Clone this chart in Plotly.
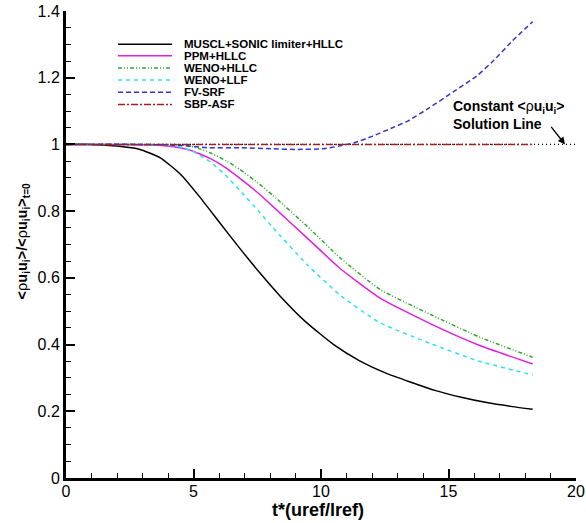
import plotly.graph_objects as go

# Nondimensional time samples and normalised kinetic energy <rho u_i u_i>/<rho u_i u_i>_{t=0}
t_muscl = [0, 1, 2, 2.9, 3.7, 4.5, 5.25, 6.0, 6.8, 7.6, 8.4, 9.4, 10.5, 11.5, 12.5, 13.5, 14.5, 15.5, 16.5, 17.5, 18.3]
v_muscl = [1.0, 1.0, 0.995, 0.985, 0.96, 0.91, 0.842, 0.768, 0.69, 0.615, 0.545, 0.468, 0.400, 0.352, 0.316, 0.288, 0.262, 0.242, 0.226, 0.214, 0.206]

t_ppm = [0, 2, 3.4, 4.2, 4.86, 5.65, 6.3, 6.82, 7.6, 8.1, 9.45, 10.75, 12.3, 14.3, 16.2, 18.3]
v_ppm = [1.0, 1.0, 0.998, 0.993, 0.983, 0.958, 0.928, 0.898, 0.85, 0.815, 0.72, 0.628, 0.54, 0.462, 0.398, 0.342]

t_weno_hllc = [0, 3, 4.6, 5.2, 5.65, 6.3, 6.82, 7.6, 8.1, 9.45, 10.75, 12.3, 14.3, 16.2, 18.3]
v_weno_hllc = [1.0, 1.0, 0.998, 0.988, 0.975, 0.95, 0.925, 0.88, 0.848, 0.755, 0.66, 0.566, 0.49, 0.423, 0.362]

t_weno_llf = [0, 3, 4.35, 5.0, 5.65, 6.2, 6.82, 7.6, 8.1, 9.45, 10.75, 12.3, 14.3, 16.2, 18.3]
v_weno_llf = [1.0, 1.0, 0.995, 0.978, 0.948, 0.912, 0.862, 0.796, 0.752, 0.64, 0.548, 0.466, 0.403, 0.35, 0.309]

t_fv_srf = [0, 3, 4.5, 5.6, 6.8, 8.1, 9.0, 10.1, 10.7, 11.3, 12.0, 12.8, 13.4, 14.15, 15.2, 16.1, 16.75, 17.5, 18.3]
v_fv_srf = [1.0, 1.0, 0.997, 0.99, 0.99, 0.987, 0.985, 0.987, 0.995, 1.005, 1.024, 1.05, 1.07, 1.105, 1.158, 1.205, 1.25, 1.31, 1.368]

t_sbp_asf = [0, 18.3]
v_sbp_asf = [1.0, 1.0]

t_const = [0, 20]
v_const = [1.0, 1.0]

series = [
    ("MUSCL+SONIC limiter+HLLC", t_muscl, v_muscl, "#000000", "solid"),
    ("PPM+HLLC", t_ppm, v_ppm, "#e020e0", "solid"),
    ("WENO+HLLC", t_weno_hllc, v_weno_hllc, "#30a830", "4px,2px,1px,2px,1px,2px"),
    ("WENO+LLF", t_weno_llf, v_weno_llf, "#30e0ee", "4px,4px"),
    ("FV-SRF", t_fv_srf, v_fv_srf, "#3535c8", "5px,3px"),
    ("SBP-ASF", t_sbp_asf, v_sbp_asf, "#a02020", "7px,2px,2px,2px"),
]

FONT = "Liberation Sans, Arial, Helvetica, sans-serif"

fig = go.Figure()

# constant-solution reference line (dotted)
fig.add_trace(go.Scatter(x=t_const, y=v_const, mode="lines",
                         line=dict(color="black", width=1.2, dash="1px,3px"),
                         showlegend=False, hoverinfo="skip"))

for name, t, v, color, dash in series:
    fig.add_trace(go.Scatter(x=t, y=v, mode="lines", name=name,
                             line=dict(color=color, width=1.5, dash=dash, shape="spline", smoothing=0.5),
                             showlegend=False))

# hand-laid legend in the upper-left corner
leg_x0, leg_x1, leg_tx = 0.102, 0.208, 0.227
leg_rows = [0.929, 0.904, 0.878, 0.852, 0.826, 0.800]
for (name, _, _, color, dash), yy in zip(series, leg_rows):
    fig.add_shape(type="line", xref="paper", yref="paper",
                  x0=leg_x0, x1=leg_x1, y0=yy, y1=yy,
                  line=dict(color=color, width=1.5, dash=dash))
    fig.add_annotation(xref="paper", yref="paper", x=leg_tx, y=yy,
                       xanchor="left", yanchor="middle", showarrow=False,
                       text=f"<b>{name}</b>",
                       font=dict(family=FONT, size=11.5, color="black"))

# label and arrow for the constant solution line
fig.add_annotation(x=15.1, y=1.087, xref="x", yref="y", xanchor="left", yanchor="middle",
                   showarrow=False, align="left",
                   text="<b>Constant &lt;</b>ρ<b>u<sub>i</sub>u<sub>i</sub>&gt;<br>Solution Line</b>",
                   font=dict(family=FONT, size=14, color="black"))
fig.add_annotation(x=19.57, y=1.0, xref="x", yref="y", ax=18.98, ay=1.057,
                   axref="x", ayref="y", text="", showarrow=True,
                   arrowhead=2, arrowsize=1.1, arrowwidth=1.3, arrowcolor="black")

# axis titles
fig.add_annotation(xref="paper", yref="paper", x=0.494, y=-0.068, showarrow=False,
                   xanchor="center", yanchor="middle",
                   text="<b>t*(uref/lref)</b>",
                   font=dict(family=FONT, size=18, color="black"))
fig.add_annotation(xref="paper", yref="paper", x=-0.084, y=0.507, showarrow=False,
                   xanchor="center", yanchor="middle", textangle=-90,
                   text="<b>&lt;</b>ρ<b>u<sub>i</sub>u<sub>i</sub>&gt;/&lt;</b>ρ<b>u<sub>i</sub>u<sub>i</sub>&gt;<sub>t=0</sub></b>",
                   font=dict(family=FONT, size=14.5, color="black"))

axis_common = dict(showgrid=False, zeroline=False, showline=True, linewidth=3,
                   linecolor="black", ticks="inside", ticklen=9, tickwidth=2,
                   tickcolor="black", mirror=False, automargin=False,
                   tickfont=dict(family=FONT, size=16, color="black"))

fig.update_xaxes(range=[0, 20], dtick=5, tick0=0, ticklabelstandoff=-3,
                 minor=dict(dtick=1, ticks="inside", ticklen=5, tickwidth=1, tickcolor="black"),
                 **axis_common)
fig.update_yaxes(range=[0, 1.4], dtick=0.2, tick0=0,
                 minor=dict(dtick=0.05, ticks="inside", ticklen=5, tickwidth=1, tickcolor="black"),
                 **axis_common)

fig.update_layout(width=586, height=523,
                  margin=dict(l=66, r=10, t=11, b=45, pad=0),
                  paper_bgcolor="white", plot_bgcolor="white",
                  showlegend=False)

fig.write_html("out.html")
